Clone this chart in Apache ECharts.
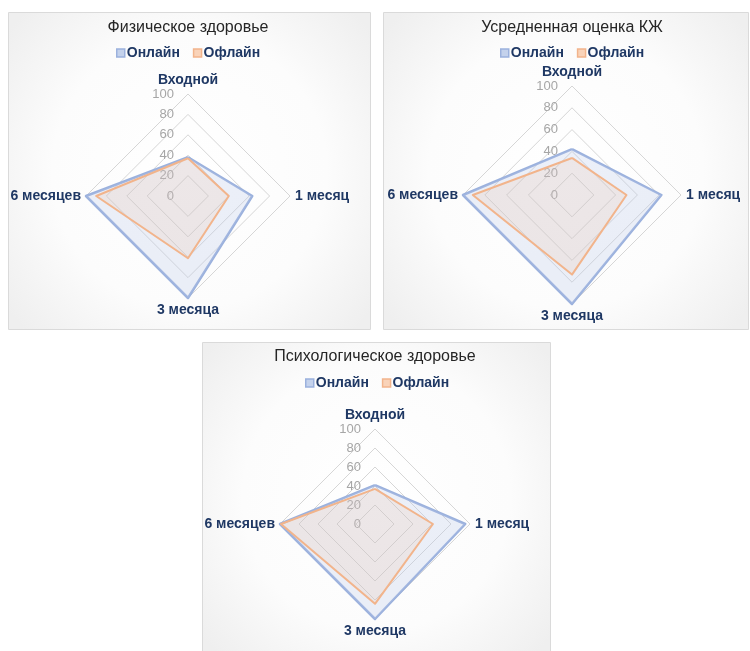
<!DOCTYPE html>
<html>
<head>
<meta charset="utf-8">
<script src="https://cdn.jsdelivr.net/npm/echarts@6/dist/echarts.min.js"></script>
<style>
  html, body { margin: 0; padding: 0; background: #ffffff; }
  #chart { width: 750px; height: 651px; }
</style>
</head>
<body>
<div id="chart"></div>
<script>
// Radar axes (time points) and groups
const indicatorNames = ['Входной', '1 месяц', '3 месяца', '6 месяцев'];
const groupNames = ['Онлайн', 'Офлайн'];
const scaleMax = 100;

const panelTitles = ['Физическое здоровье', 'Усредненная оценка КЖ', 'Психологическое здоровье'];

// Scores per time point
const physicalOnline  = [38, 63, 100, 100];
const physicalOffline = [37, 40, 61, 90];
const overallOnline   = [42, 82, 100, 100];
const overallOffline  = [34, 50, 73, 91];
const mentalOnline    = [41, 95, 100, 100];
const mentalOffline   = [37, 61, 84, 99];

const FONT = "'Liberation Sans', Arial, sans-serif";
const NAVY = '#1f3864';

const panelValues = [
  [physicalOnline, physicalOffline],
  [overallOnline, overallOffline],
  [mentalOnline, mentalOffline]
];

// ECharts lays radar axes out counter-clockwise from startAngle;
// walk the time points in reverse after the first so they run clockwise.
const axisOrder = [0, 3, 2, 1];

// Panel frames and radar placement
const layouts = [
  { box: [8, 12, 362, 317],   center: [188, 196], radius: 102, titleTop: 20,  legendLeft: 116, legendTop: 46 },
  { box: [383, 12, 365, 317], center: [572, 195], radius: 109, titleTop: 20,  legendLeft: 500, legendTop: 46 },
  { box: [202, 342, 348, 309], center: [375, 524], radius: 95, titleTop: 349, legendLeft: 305, legendTop: 376 }
];

const lineColors = ['#9bb1dd', '#f2b48c'];
const areaColors = ['rgba(182,200,233,0.38)', 'rgba(244,180,140,0.22)'];
const legendFill = ['#c4d2ec', '#f9d3b9'];

const chart = echarts.init(document.getElementById('chart'), null, { renderer: 'canvas' });

const graphic = layouts.map(l => ({
  type: 'rect',
  z: -10,
  silent: true,
  shape: { x: l.box[0] + 0.5, y: l.box[1] + 0.5, width: l.box[2], height: l.box[3] },
  style: {
    fill: new echarts.graphic.RadialGradient(0.5, 0.5, 0.72, [
      { offset: 0, color: '#ffffff' },
      { offset: 0.6, color: '#fcfcfc' },
      { offset: 1, color: '#efefef' }
    ]),
    stroke: '#dadada',
    lineWidth: 1
  }
}));

const title = layouts.map((l, i) => ({
  text: panelTitles[i],
  left: l.center[0],
  top: l.titleTop,
  textAlign: 'center',
  padding: 0,
  textStyle: { fontFamily: FONT, fontSize: 16, fontWeight: 'normal', color: '#262626' }
}));

const legend = layouts.map(l => ({
  left: l.legendLeft,
  top: l.legendTop,
  padding: 0,
  itemWidth: 8,
  itemHeight: 8,
  itemGap: 13,
  icon: 'rect',
  selectedMode: false,
  textStyle: { fontFamily: FONT, fontSize: 14, fontWeight: 'bold', color: NAVY, padding: [0, 0, 0, -3] },
  data: groupNames.map((n, k) => ({
    name: n,
    itemStyle: { color: legendFill[k], borderColor: lineColors[k], borderWidth: 1.5 }
  }))
}));

const radar = layouts.map(l => ({
  center: l.center,
  radius: l.radius,
  startAngle: 90,
  shape: 'polygon',
  splitNumber: 5,
  nameGap: 5,
  axisName: { fontFamily: FONT, fontSize: 14, fontWeight: 'bold', color: NAVY },
  axisLine: { show: false },
  axisTick: { show: false },
  splitArea: { show: false },
  splitLine: { lineStyle: { color: '#d6d6d6', width: 1 } },
  axisLabel: { show: false },
  indicator: axisOrder.map((k, pos) => ({
    name: indicatorNames[k],
    min: 0,
    max: scaleMax,
    axisLabel: pos === 0
      ? { show: true, fontFamily: FONT, fontSize: 13, color: '#a6a6a6', margin: 14 }
      : { show: false }
  }))
}));

const series = panelValues.map((vals, i) => ({
  type: 'radar',
  radarIndex: i,
  symbol: 'none',
  silent: true,
  data: vals.map((v, k) => ({
    name: groupNames[k],
    value: axisOrder.map(j => v[j]),
    itemStyle: { color: lineColors[k] },
    lineStyle: { color: lineColors[k], width: k === 0 ? 2.5 : 2 },
    areaStyle: { color: areaColors[k] }
  }))
}));

chart.setOption({
  animation: false,
  backgroundColor: '#ffffff',
  graphic,
  title,
  legend,
  radar,
  series
});
</script>
</body>
</html>
